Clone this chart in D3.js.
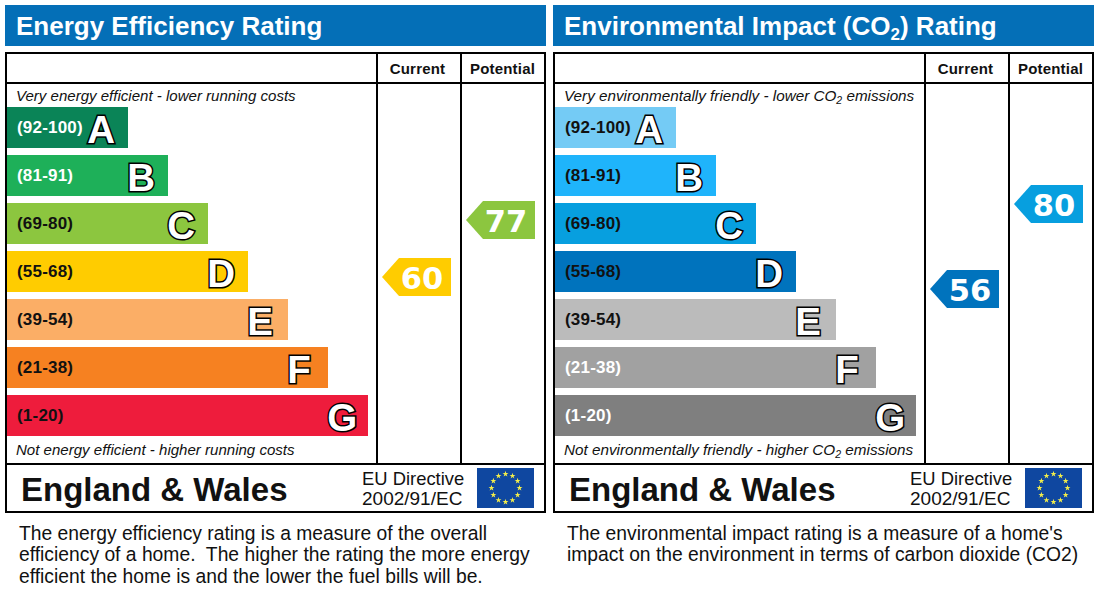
<!DOCTYPE html>
<html><head><meta charset="utf-8">
<script src="https://cdnjs.cloudflare.com/ajax/libs/d3/7.8.5/d3.min.js"></script>
<style>html,body{margin:0;padding:0;background:#fff;overflow:hidden}svg{display:block}text{font-family:"Liberation Sans",Arial,sans-serif}</style>
</head><body><svg id="c" width="1098" height="613"></svg>
<script>
const grades = ["A","B","C","D","E","F","G"];
const ranges = ["(92-100)","(81-91)","(69-80)","(55-68)","(39-54)","(21-38)","(1-20)"];
const energyColors = ["#0a8457","#1eb059","#8cc63f","#ffcc00","#fbae66","#f68121","#ee1c3c"];
const energyLabelColors = ["#fff","#fff","#111","#111","#111","#111","#111"];
const envColors = ["#74cbf5","#1fb4fb","#079fdf","#0073bd","#bbbbbb","#a1a1a1","#7f7f7f"];
const envLabelColors = ["#111","#111","#111","#111","#111","#fff","#fff"];
const energyScores = {current:60, potential:77};
const envScores = {current:56, potential:80};
const columns = ["Current","Potential"];
const energyText = {title:[["Energy Efficiency Rating"]],
  top:[["Very energy efficient - lower running costs"]],
  bottom:[["Not energy efficient - higher running costs"]],
  note:["The energy efficiency rating is a measure of the overall","efficiency of a home.\u00a0 The higher the rating the more energy","efficient the home is and the lower the fuel bills will be."]};
const envText = {title:[["Environmental Impact (CO"],["2",1],[") Rating"]],
  top:[["Very environmentally friendly - lower CO"],["2",1],[" emissions"]],
  bottom:[["Not environmentally friendly - higher CO"],["2",1],[" emissions"]],
  note:["The environmental impact rating is a measure of a home's","impact on the environment in terms of carbon dioxide (CO2)"]};

const svg = d3.select("#c");
const band = d3.scaleBand().domain(grades).range([107,436]).paddingInner(7/48).paddingOuter(0).align(0);
const barLen = d3.scaleLinear().domain([0,6]).range([121,361]);
const pointerY = d3.scaleLinear().domain([56,60,77,80]).range([289,277,220,204]);
const colX = d3.scaleBand().domain(columns).range([0,168]);

function rich(sel, parts, subSize){
  parts.forEach(p=>{
    const t = sel.append("tspan").text(p[0]);
    if(p[1]){ t.attr("font-size",subSize).attr("dy",subSize*0.3); }
    else if(sel.selectAll("tspan").size()>1){ t.attr("dy",subSize*0.3*-1); }
  });
}
function panel(ox, colors, labelColors, scores, tx, noteX, italicSize){
  const g = svg.append("g").attr("transform",`translate(${ox},0)`);
  g.append("rect").attr("x",5).attr("y",5).attr("width",541).attr("height",41).attr("fill","#046fb7");
  const title = g.append("text").attr("x",16).attr("y",35).attr("fill","#fff").attr("font-size",26).attr("font-weight",700);
  rich(title,tx.title,17);

  const frame = g.append("g").attr("fill","none").attr("stroke","#000").attr("stroke-width",2);
  frame.append("rect").attr("x",6).attr("y",53).attr("width",539).attr("height",459);
  [[6,545,83,83],[6,545,464,464],[377,377,53,464],[461,461,53,464]].forEach(l=>
    frame.append("line").attr("x1",l[0]).attr("x2",l[1]).attr("y1",l[2]).attr("y2",l[3]));

  columns.forEach((c,i)=>g.append("text").attr("x",377+colX(c)+colX.bandwidth()/2-0.5-(i?0:1)).attr("y",74)
    .attr("text-anchor","middle").attr("font-size",15).attr("font-weight",700).attr("letter-spacing",0.2).attr("fill","#111").text(c));

  const top = g.append("text").attr("x",16).attr("y",101).attr("font-size",italicSize).attr("font-style","italic").attr("fill","#111");
  rich(top,tx.top,10.5);
  const bot = g.append("text").attr("x",16).attr("y",455).attr("font-size",italicSize).attr("font-style","italic").attr("fill","#111");
  rich(bot,tx.bottom,10.5);

  const rows = g.selectAll("g.row").data(grades).join("g").attr("class","row");
  rows.append("rect").attr("x",7).attr("y",d=>band(d)).attr("height",band.bandwidth())
    .attr("width",(d,i)=>barLen(i)).attr("fill",(d,i)=>colors[i]);
  rows.append("text").attr("x",17).attr("y",d=>band(d)+26).attr("font-size",17).attr("font-weight",700)
    .attr("letter-spacing",0.2).attr("fill",(d,i)=>labelColors[i]).text((d,i)=>ranges[i]);
  rows.append("text").attr("x",(d,i)=>7+barLen(i)-40.8).attr("y",d=>band(d)+35.5)
    .attr("font-size",38.5).attr("font-weight",700).attr("fill","#fff").attr("stroke","#000").attr("stroke-width",3)
    .attr("stroke-linejoin","miter").style("paint-order","stroke").text(d=>d);

  [["current",0],["potential",1]].forEach(([k,i])=>{
    const v = scores[k], cx = 377+colX(columns[i]), y = pointerY(v);
    const col = colors[grades.findIndex((g,j)=>{const lo=+ranges[j].match(/\d+/)[0];return v>=lo;})];
    const r = cx+74, l = cx+5, sh = cx+22, h = 19;
    g.append("path").attr("d",d3.line()([[l,y],[sh,y-h],[r,y-h],[r,y+h],[sh,y+h]])+"Z").attr("fill",col);
    g.append("text").attr("x",(sh+r)/2-3).attr("y",y+11.5).attr("text-anchor","middle")
      .style("font-family","'DejaVu Sans'").attr("font-size",30.5).attr("font-weight",700).attr("fill","#fff").text(v);
  });

  g.append("text").attr("x",21).attr("y",501).attr("font-size",33).attr("font-weight",700).attr("fill","#111").text("England & Wales");
  g.append("text").attr("x",362).attr("y",485).attr("font-size",18.4).attr("fill","#111").text("EU Directive");
  g.append("text").attr("x",362).attr("y",505).attr("font-size",19).attr("fill","#111").text("2002/91/EC");

  const fx = 477, fy = 468, fw = 57, fh = 40;
  g.append("rect").attr("x",fx).attr("y",fy).attr("width",fw).attr("height",fh).attr("fill","#0f47a0");
  const star = d3.symbol().type(d3.symbolStar).size(11);
  g.selectAll("path.star").data(d3.range(12)).join("path").attr("class","star").attr("d",star).attr("fill","#f4ee4a")
    .attr("transform",i=>{const a=i/12*2*Math.PI;return `translate(${fx+fw/2+14*Math.sin(a)},${fy+fh/2-14*Math.cos(a)})`;});

  tx.note.forEach((s,i)=>svg.append("text").attr("x",noteX).attr("y",539.5+i*21.7).attr("font-size",19.3).attr("fill","#111").text(s));
}
panel(0, energyColors, energyLabelColors, energyScores, energyText, 19, 15.05);
panel(548, envColors, envLabelColors, envScores, envText, 567, 15.25);
</script></body></html>
